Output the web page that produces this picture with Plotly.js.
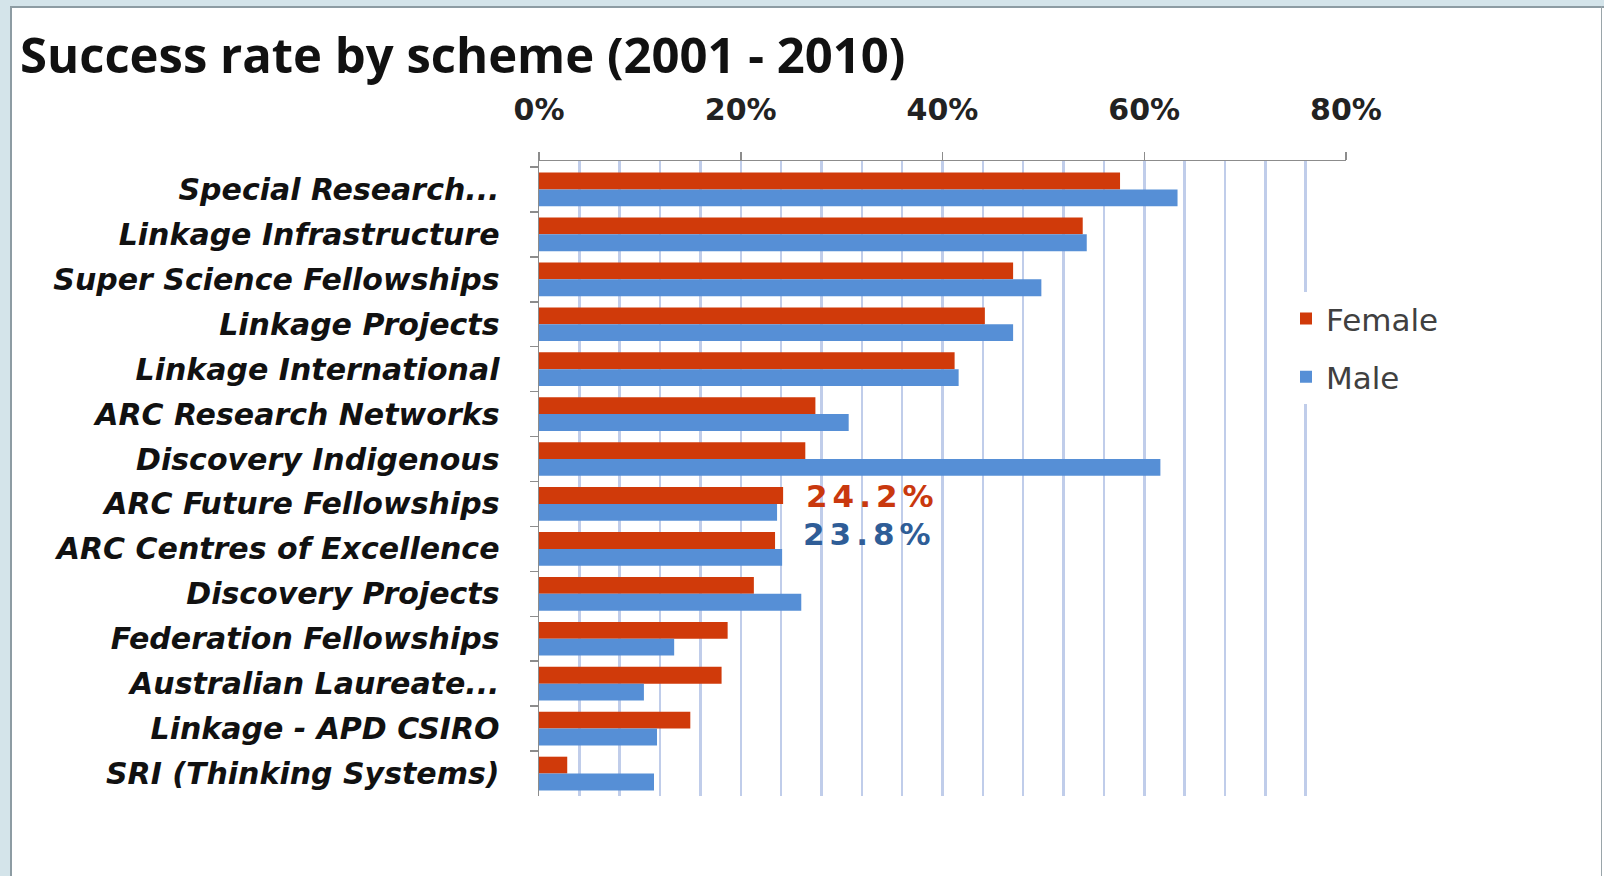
<!DOCTYPE html>
<html><head><meta charset="utf-8">
<script src="https://cdn.plot.ly/plotly-3.0.1.min.js"></script>
<style>
html,body{margin:0;padding:0;background:#fff;}
#wrap{position:relative;width:1604px;height:876px;overflow:hidden;}
#chart{position:absolute;left:0;top:0;width:1604px;height:876px;}
.deco{position:absolute;pointer-events:none;}
</style></head><body>
<div id="wrap">
<div id="chart"></div>
<div class="deco" style="left:0;top:0;width:1604px;height:6px;background:#d4e4ea"></div>
<div class="deco" style="left:0;top:0;width:10px;height:876px;background:#d4e4ea"></div>
<div class="deco" style="left:10px;top:6px;width:1594px;height:2px;background:#8d9ca3"></div>
<div class="deco" style="left:10px;top:6px;width:2px;height:870px;background:#8d9ca3"></div>
<div class="deco" style="left:1601px;top:6px;width:1px;height:870px;background:#9aa5aa"></div>
</div>
<script>
const categories = [
  'Special Research...',
  'Linkage Infrastructure',
  'Super Science Fellowships',
  'Linkage Projects',
  'Linkage International',
  'ARC Research Networks',
  'Discovery Indigenous',
  'ARC Future Fellowships',
  'ARC Centres of Excellence',
  'Discovery Projects',
  'Federation Fellowships',
  'Australian Laureate...',
  'Linkage - APD CSIRO',
  'SRI (Thinking Systems)'
];
const female = [57.6, 53.9, 47.0, 44.2, 41.2, 27.4, 26.4, 24.2, 23.4, 21.3, 18.7, 18.1, 15.0, 2.8];
const male   = [63.3, 54.3, 49.8, 47.0, 41.6, 30.7, 61.6, 23.6, 24.1, 26.0, 13.4, 10.4, 11.7, 11.4];
const tickVals = [0, 20, 40, 60, 80];
const tickText = ['0%', '20%', '40%', '60%', '80%'];
const calloutText = ['24.2%', '23.8%'];
const calloutRows = ['ARC Future Fellowships', 'ARC Centres of Excellence'];

const RED = '#d03a0a', BLUE = '#568fd6';

const traces = [
  {type:'bar', orientation:'h', name:'Female', y:categories, x:female,
   marker:{color:RED}, legendgroup:'f'},
  {type:'bar', orientation:'h', name:'Male', y:categories, x:male,
   marker:{color:BLUE}, legendgroup:'m'}
];

const layout = {
  width:1604, height:876,
  margin:{l:539, r:258, t:161, b:80, pad:0},
  paper_bgcolor:'#ffffff', plot_bgcolor:'#ffffff',
  barmode:'group', bargap:0.25, bargroupgap:0,
  showlegend:true,
  title:{text:'Success rate by scheme (2001 - 2010)',
    font:{family:'Open Sans', size:49, color:'#111', weight:'bold'},
    x:20/1604, xref:'container', xanchor:'left',
    y:1-56/876, yref:'container', yanchor:'middle'},
  xaxis:{side:'top', range:[0,80], tickvals:tickVals, ticktext:tickText,
    ticks:'outside', ticklen:8, tickcolor:'#8c8c8c', tickwidth:1.5,
    showline:true, linecolor:'#8c8c8c', linewidth:1.5,
    showgrid:true, gridcolor:'#c0cdea', gridwidth:2.5,
    minor:{dtick:4, tick0:0, showgrid:true, gridcolor:'#c0cdea', gridwidth:2.5, ticks:''},
    zeroline:false, fixedrange:true, ticklabelstandoff:20,
    tickfont:{family:'DejaVu Sans', size:30, color:'#222', weight:'bold'}},
  yaxis:{type:'category', range:[13.5, -0.633], categoryorder:'array', categoryarray:categories,
    ticks:'outside', tickson:'boundaries', ticklen:8, tickcolor:'#8c8c8c', tickwidth:1.5,
    showline:true, linecolor:'#8c8c8c', linewidth:1.5, showgrid:false, zeroline:false,
    ticklabelstandoff:32,
    tickfont:{family:'DejaVu Sans', size:30, color:'#111', weight:'bold', style:'italic'}},
  legend:{x:(1286-539)/807, xanchor:'left', y:(796-291)/636, yanchor:'top',
    bgcolor:'#ffffff', borderwidth:0, traceorder:'grouped', tracegroupgap:15,
    font:{family:'DejaVu Sans', size:31, color:'#404040'}},
  annotations:[
    {x:26.3, y:calloutRows[0], xref:'x', yref:'y', xanchor:'left', yanchor:'middle',
     text:'<span style="letter-spacing:5px">' + calloutText[0] + '</span>', showarrow:false, yshift:8,
     font:{family:'DejaVu Sans', size:31, color:'#c9380e', weight:'bold'}},
    {x:26.0, y:calloutRows[1], xref:'x', yref:'y', xanchor:'left', yanchor:'middle',
     text:'<span style="letter-spacing:5px">' + calloutText[1] + '</span>', showarrow:false, yshift:15,
     font:{family:'DejaVu Sans', size:31, color:'#2f5d97', weight:'bold'}}
  ]
};

Plotly.newPlot('chart', traces, layout, {displayModeBar:false, staticPlot:true});
</script>
</body></html>
